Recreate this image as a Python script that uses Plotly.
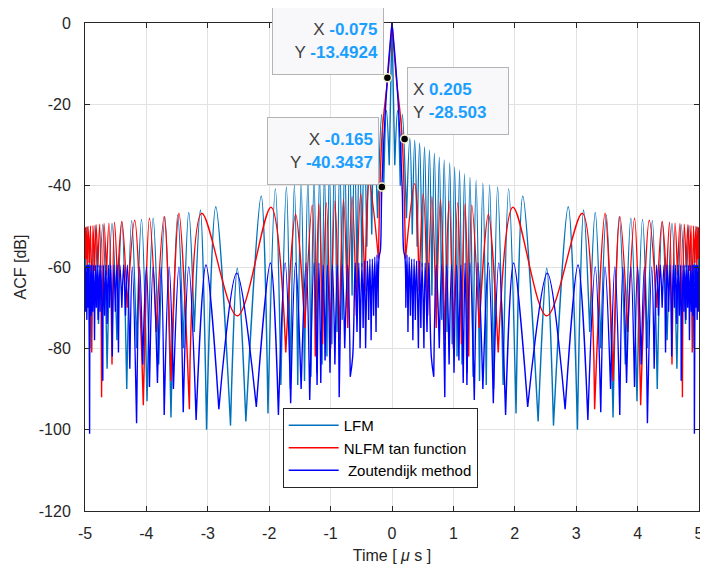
import plotly.graph_objects as go

# ---- data (right half, t >= 0; ACF is symmetric) ----
# turning points of each curve: time in microseconds, level in dB

lfm_t = [0, 0.045, 0.09, 0.135, 0.17, 0.235, 0.29, 0.33, 0.37, 0.41, 0.45, 0.49,
         0.53, 0.57, 0.61, 0.65, 0.69, 0.73, 0.77, 0.81, 0.85, 0.895, 0.94, 0.98,
         1.02, 1.06, 1.1, 1.14, 1.18, 1.225, 1.27, 1.32, 1.37, 1.425, 1.48, 1.535,
         1.59, 1.655, 1.72, 1.81, 1.9, 2.02, 2.13, 2.38, 2.52, 2.63, 2.87, 3.02,
         3.12, 3.22, 3.31, 3.4, 3.49, 3.6, 3.7, 3.8, 3.89, 3.99, 4.08, 4.16,
         4.24, 4.32, 4.4, 4.48, 4.56, 4.64, 4.71, 4.78, 4.84, 4.9, 4.96, 5.0]
lfm_db = [0, -35, -21.5, -40, -22.5, -48, -28.3, -52, -28.8, -55, -29.5, -60,
          -30.5, -64, -31.2, -67, -32, -70, -33, -73, -33.7, -76, -34.4, -79,
          -35.4, -82, -36.2, -84, -37.1, -86, -38, -87, -38.7, -88, -39.4, -89,
          -39.9, -90, -40.4, -89, -40.8, -96, -42.5, -98, -60.3, -99, -45.2, -100,
          -46, -76, -46.6, -80, -47.2, -97, -47.7, -84, -48, -93, -48.3, -80,
          -48.6, -90, -49, -78, -49.3, -85, -49.6, -74, -49.9, -80, -50.2, -62]

tan_t = [0, 0.07, 0.16, 0.22, 0.37, 0.44, 0.51, 0.58, 0.65, 0.72, 0.79, 0.86,
         0.93, 1.0, 1.07, 1.13, 1.19, 1.25, 1.3, 1.42, 1.57, 1.73, 1.97, 2.52,
         3.1, 3.3, 3.47, 3.6, 3.71, 3.84, 3.95, 4.05, 4.19, 4.31, 4.4, 4.47,
         4.52, 4.56, 4.61, 4.65, 4.69, 4.73, 4.76, 4.79, 4.82, 4.845, 4.87, 4.89,
         4.91, 4.93, 4.95, 4.965, 4.98, 4.99, 5.0]
tan_db = [0, -13.5, -27, -58, -39.5, -66, -42, -72, -42.7, -75, -43.3, -78,
          -43.8, -80, -44.2, -79, -44.5, -82, -44.8, -75, -47, -81, -45.3, -72,
          -46.8, -95, -46.8, -88, -47.6, -76, -48, -94, -48.5, -70, -48.8, -64,
          -49, -84, -49.2, -62, -49.3, -92, -49.5, -60, -49.6, -61, -49.8, -81,
          -49.9, -59, -50, -60, -50.1, -58, -50.2]
# the broad dip of the tan curve is rounded, not a null
tan_round_min = [2.52]

zout_t = [0, 0.075, 0.165, 0.19, 0.21, 0.225, 0.245, 0.26, 0.28, 0.3, 0.32, 0.34,
          0.36, 0.38, 0.4, 0.43, 0.45, 0.47, 0.49, 0.52, 0.54, 0.57, 0.6, 0.64,
          0.68, 0.72, 0.77, 0.81, 0.86, 0.89, 0.93, 0.97, 1.01, 1.05, 1.09, 1.12,
          1.16, 1.19, 1.22, 1.27, 1.34, 1.4, 1.48, 1.57, 1.65, 1.74, 1.85, 1.98,
          2.21, 2.53, 2.82, 3.03, 3.19, 3.31, 3.4, 3.47, 3.56, 3.63, 3.71, 3.76,
          3.82, 3.89, 3.95, 4.0, 4.06, 4.11, 4.16, 4.23, 4.27, 4.31, 4.34, 4.37,
          4.4, 4.43, 4.455, 4.48, 4.505, 4.53, 4.555, 4.58, 4.6, 4.62, 4.64, 4.66,
          4.68, 4.7, 4.71, 4.74, 4.755, 4.77, 4.785, 4.8, 4.815, 4.83, 4.845, 4.86,
          4.875, 4.89, 4.9, 4.915, 4.925, 4.94, 4.95, 4.96, 4.97, 4.98, 4.99, 5.0]
zout_db = [0, -13.5, -40.3, -56, -57.5, -70, -57, -76, -57.5, -72, -58, -78,
           -58, -73, -58.5, -80, -58.5, -75, -59, -80, -59, -76, -59, -82,
           -87, -59.5, -80, -59.5, -92, -59.5, -84, -59.5, -86, -59.5, -83, -59.5,
           -88.5, -59, -89, -59, -92.7, -59, -90, -59, -93.5, -59, -96.4, -59,
           -94.4, -61.5, -95, -59.5, -97.6, -60, -95.7, -60, -90, -60, -96.4, -60,
           -88.5, -60, -89.5, -60, -84, -60, -98.4, -60, -85, -59.5, -72, -59.5,
           -70, -59.5, -81, -59.5, -71, -59.5, -82, -59.5, -70, -59.5, -74, -59.5,
           -72, -59.5, -88, -59.5, -71, -59.5, -73, -59.5, -70, -59.5, -78, -59.5,
           -71, -59.5, -72, -59.5, -101, -59.5, -70, -59.5, -73, -59.5, -71, -60]

series_names = ["LFM", "NLFM tan function", " Zoutendijk method"]
series_colors = ["#0072BD", "#FF0000", "#0000FF"]

# axis ticks
x_ticks = [-5, -4, -3, -2, -1, 0, 1, 2, 3, 4, 5]
y_ticks = [-120, -100, -80, -60, -40, -20, 0]

# data tips shown on the figure
tip_x = [-0.075, 0.205, -0.165]
tip_y = [-13.4924, -28.503, -40.3437]
tip_xlabel = ["-0.075", "0.205", "-0.165"]
tip_ylabel = ["-13.4924", "-28.503", "-40.3437"]


def mirror(t, db, round_min=()):
    # full curve from -5 to 5 out of the right half; nulls and the apex are
    # repeated so the spline keeps them as sharp cusps
    x = [-v for v in reversed(t[1:])] + list(t)
    y = list(reversed(db[1:])) + list(db)
    xs, ys = [], []
    for i in range(len(x)):
        xs.append(x[i])
        ys.append(y[i])
        inner = 0 < i < len(x) - 1
        is_null = inner and y[i] < y[i - 1] and y[i] < y[i + 1] and abs(x[i]) not in round_min
        if is_null or x[i] == 0:
            xs.append(x[i])
            ys.append(y[i])
    return xs, ys


fig = go.Figure()
curves = [(lfm_t, lfm_db, []), (tan_t, tan_db, tan_round_min), (zout_t, zout_db, [])]
for (t, db, rm), name, col in zip(curves, series_names, series_colors):
    assert len(t) == len(db)
    x, y = mirror(t, db, rm)
    fig.add_trace(go.Scatter(x=x, y=y, mode="lines", name=name,
                             line=dict(color=col, width=1.4, shape="spline",
                                       smoothing=1.0, simplify=False)))

fig.add_trace(go.Scatter(x=tip_x, y=tip_y, mode="markers", showlegend=False,
                         hoverinfo="skip",
                         marker=dict(color="black", size=8,
                                     line=dict(color="#f4f0c8", width=1.5))))

val_col = "#1a9fff"
tip_style = [
    dict(xanchor="right", yanchor="bottom", align="right", xshift=-3, yshift=3, width=100),
    dict(xanchor="left", yanchor="bottom", align="left", xshift=2, yshift=4, width=90),
    dict(xanchor="right", yanchor="bottom", align="right", xshift=-3, yshift=2, width=100),
]
for i, st in enumerate(tip_style):
    txt = ("X <span style='color:%s'><b>%s</b></span><br>"
           "Y <span style='color:%s'><b>%s</b></span>"
           % (val_col, tip_xlabel[i], val_col, tip_ylabel[i]))
    fig.add_annotation(x=tip_x[i], y=tip_y[i], xref="x", yref="y", text=txt,
                       showarrow=False, bgcolor="#f8f8fb", bordercolor="#b4b4b4",
                       borderwidth=1, borderpad=5, height=56,
                       font=dict(size=17, color="#404040",
                                 family="Liberation Sans, Arial, sans-serif"),
                       **st)

axis_col = "#262626"
fig.update_xaxes(range=[-5, 5], tickvals=x_ticks, ticktext=[str(v) for v in x_ticks],
                 showgrid=True, gridcolor="#e2e2e2",
                 showline=True, linecolor=axis_col, linewidth=1, mirror="ticks",
                 ticks="inside", ticklen=5, tickcolor=axis_col, zeroline=False,
                 automargin=False, ticklabeloverflow="allow", ticklabelstandoff=8,
                 tickfont=dict(size=16, color=axis_col),
                 title=dict(text="Time [ <i>μ</i> s ]", standoff=8,
                            font=dict(size=16, color=axis_col)))
fig.update_yaxes(range=[-120, 0], tickvals=y_ticks, ticktext=[str(v) for v in y_ticks],
                 showgrid=True, gridcolor="#e2e2e2",
                 showline=True, linecolor=axis_col, linewidth=1, mirror="ticks",
                 ticks="inside", ticklen=5, tickcolor=axis_col, zeroline=False,
                 automargin=False, ticklabelstandoff=10,
                 tickfont=dict(size=16, color=axis_col),
                 title=dict(text="ACF [dB]", standoff=8,
                            font=dict(size=16, color=axis_col)))

# the page adds an 8 px body margin and clips at the body width,
# so the figure is kept inside 692 x 558
fig.update_layout(
    width=692, height=558,
    margin=dict(l=77, r=1, t=15, b=55),
    paper_bgcolor="white", plot_bgcolor="white",
    font=dict(family="Liberation Sans, Arial, sans-serif", size=16, color=axis_col),
    legend=dict(x=0.322, y=0.211, xanchor="left", yanchor="top",
                bgcolor="white", bordercolor=axis_col, borderwidth=1,
                font=dict(size=15, color="black"), itemwidth=50,
                tracegroupgap=0),
)

fig.write_html("out.html")
